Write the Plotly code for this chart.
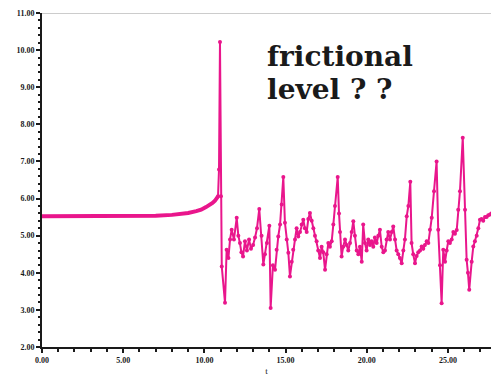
import plotly.graph_objects as go

# smooth pre-slip part
t_smooth = [0.0, 1.0, 2.0, 3.0, 4.0, 5.0, 6.0, 7.0, 8.0, 8.5, 9.0, 9.5, 9.8, 10.1,
            10.3, 10.5, 10.65, 10.75, 10.84]
v_smooth = [5.52, 5.52, 5.52, 5.52, 5.52, 5.53, 5.53, 5.54, 5.56, 5.58, 5.61, 5.66, 5.7,
            5.77, 5.82, 5.88, 5.94, 5.99, 6.06]

# stick-slip part
t_noisy = [10.84, 10.90, 10.96, 11.02, 11.07, 11.27, 11.37, 11.48, 11.58, 11.68, 11.82, 11.99,
           12.09, 12.19, 12.28, 12.38, 12.50, 12.62, 12.75, 12.87, 13.00, 13.12, 13.24,
           13.38, 13.52, 13.63, 13.73, 13.85, 14.00, 14.08, 14.22, 14.35, 14.45, 14.55,
           14.66, 14.76, 14.86, 14.96, 15.07, 15.17, 15.27, 15.38, 15.47, 15.58, 15.68,
           15.78, 15.89, 15.99, 16.09, 16.19, 16.30, 16.40, 16.50, 16.61, 16.71, 16.81,
           16.91, 17.01, 17.12, 17.22, 17.32, 17.43, 17.53, 17.63, 17.73, 17.84, 17.94,
           18.04, 18.21, 18.29, 18.35, 18.45, 18.55, 18.66, 18.76, 18.86, 18.97, 19.07,
           19.17, 19.27, 19.38, 19.48, 19.58, 19.69, 19.78, 19.89, 19.99, 20.09, 20.20,
           20.30, 20.40, 20.50, 20.61, 20.71, 20.81, 20.92, 21.02, 21.12, 21.22, 21.32,
           21.43, 21.53, 21.63, 21.74, 21.84, 21.94, 22.04, 22.15, 22.25, 22.35, 22.46,
           22.56, 22.68, 22.76, 22.86, 22.97, 23.07, 23.17, 23.28, 23.38, 23.48, 23.58,
           23.69, 23.79, 23.89, 24.00, 24.14, 24.30, 24.40, 24.51, 24.61, 24.71, 24.82,
           24.92, 25.02, 25.12, 25.23, 25.33, 25.43, 25.54, 25.63, 25.74, 25.91, 26.05,
           26.15, 26.23, 26.31, 26.46, 26.56, 26.66, 26.77, 26.87, 26.97, 27.07, 27.17,
           27.28, 27.38, 27.48, 27.59, 27.68]
v_noisy = [6.06, 6.78, 10.22, 6.06, 4.17, 3.19, 4.62, 4.4, 4.9, 5.16, 4.9, 5.48,
           5.0, 4.8, 4.55, 4.44, 4.85, 4.6, 4.9, 4.65, 4.75, 4.95, 5.2,
           5.72, 5.0, 4.22, 4.5, 4.8, 5.27, 3.05, 4.2, 4.08, 4.62, 4.98,
           5.3, 5.84, 6.58, 5.35, 4.9, 4.54, 3.9, 4.3, 4.62, 4.9, 5.2,
           4.98, 5.1, 5.3, 5.43, 5.2, 5.1, 5.45, 5.61, 5.4, 5.2, 5.0,
           4.85, 4.6, 4.4, 4.7, 4.55, 4.08, 4.5, 4.8, 4.7, 4.85, 5.3,
           5.8, 6.58, 5.6, 5.1, 4.44, 4.7, 4.9, 4.75, 4.6, 4.8, 5.1,
           5.39, 5.0, 4.6, 4.5, 4.7, 4.3, 5.3, 4.8, 4.6, 4.9, 4.75,
           4.85, 4.7, 4.95, 4.8, 5.0, 5.16, 4.7, 4.55, 4.6, 4.9, 5.1,
           4.9, 5.1, 5.25, 4.9, 4.6, 4.5, 4.4, 4.26, 4.6, 4.9, 5.52,
           5.8, 6.45, 4.8, 4.5, 4.26, 4.45, 4.55, 4.6, 4.71, 4.65, 4.75,
           4.85, 4.8, 5.16, 5.48, 6.2, 7.0, 5.16, 4.2, 3.18, 4.62, 4.3,
           4.6, 4.85, 4.8, 4.9, 5.1, 5.05, 5.15, 5.7, 6.2, 7.64, 5.7,
           4.35, 4.0, 3.54, 4.3, 4.71, 4.85, 5.0, 5.2, 5.43, 5.45, 5.4,
           5.5, 5.5, 5.55, 5.57, 5.6]

annotation_lines = ["frictional", "level ? ?"]

PINK = "#E9168C"
INK = "#1a1a1a"

fig = go.Figure()
fig.add_trace(go.Scatter(x=t_smooth, y=v_smooth, mode="lines",
                         line=dict(color=PINK, width=4), showlegend=False))
fig.add_trace(go.Scatter(x=t_noisy, y=v_noisy, mode="lines+markers",
                         line=dict(color=PINK, width=2),
                         marker=dict(color=PINK, size=4), showlegend=False))

tickfont = dict(family="Liberation Serif", size=8, color=INK, weight="bold")

fig.update_xaxes(range=[0, 27.65], tick0=0, dtick=5, tickformat=".2f",
                 ticks="outside", ticklen=4, tickwidth=1.5, tickcolor=INK,
                 showline=True, linecolor=INK, linewidth=2,
                 showgrid=False, zeroline=False, tickfont=tickfont,
                 minor=dict(ticks="outside", dtick=1, ticklen=3, tickcolor=INK, showgrid=False),
                 title=dict(text="t", font=dict(family="Liberation Serif", size=9, color=INK),
                            standoff=4))
fig.update_yaxes(range=[2, 11], tick0=2, dtick=1, tickformat=".2f",
                 ticks="outside", ticklen=4, tickwidth=1.5, tickcolor=INK,
                 showline=True, linecolor=INK, linewidth=2,
                 showgrid=False, zeroline=False, tickfont=tickfont,
                 minor=dict(ticks="outside", dtick=0.2, ticklen=2, tickcolor=INK, showgrid=False))

fig.add_shape(type="line", xref="paper", yref="y", x0=0, x1=1, y0=11, y1=11,
              line=dict(color="#999", width=1))

for i, line in enumerate(annotation_lines):
    fig.add_annotation(x=13.72, y=10.32 - i * 0.88, xref="x", yref="y",
                       xanchor="left", yanchor="top",
                       text=line, showarrow=False, align="left",
                       font=dict(family="DejaVu Serif", size=28, color=INK, weight="bold"))

fig.update_layout(width=491, height=381, margin=dict(l=42, r=0, t=13, b=34),
                  paper_bgcolor="white", plot_bgcolor="white")

fig.write_html("out.html")
